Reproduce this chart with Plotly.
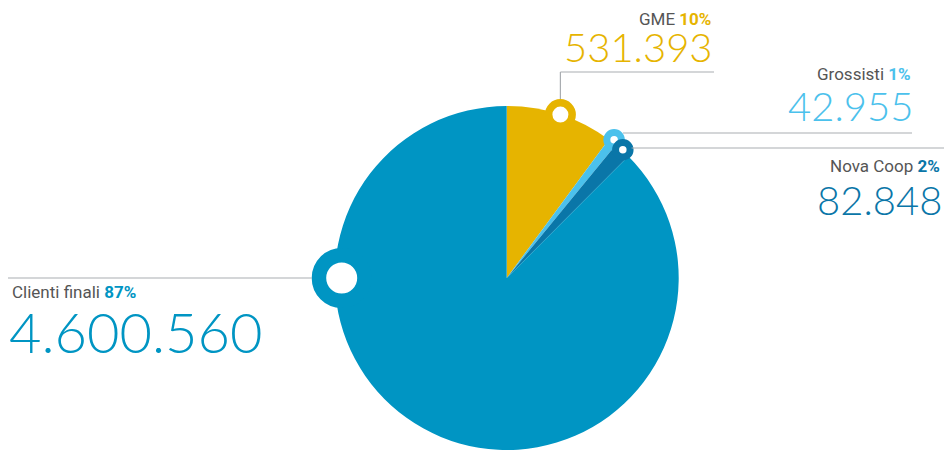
import math
import plotly.graph_objects as go

# ---- data ----
categories = ["GME", "Grossisti", "Nova Coop", "Clienti finali"]
values = [531393, 42955, 82848, 4600560]
pct_labels = ["10%", "1%", "2%", "87%"]
colors = ["#E6B400", "#4BC1EC", "#0A76A8", "#0095C3"]

W, H = 944, 450
CX, CY, R = 506.7, 278.0, 172.0

fig = go.Figure()

fig.add_trace(go.Pie(
    labels=categories, values=values, sort=False, direction="clockwise",
    rotation=0, textinfo="none", hoverinfo="label+value+percent",
    marker=dict(colors=colors, line=dict(width=0)),
    domain=dict(x=[(CX - R) / W, (CX + R) / W], y=[(H - CY - R) / H, (H - CY + R) / H]),
    showlegend=False,
))

# mid-angles of slices (clockwise from 12 o'clock)
total = sum(values)
cum = 0
mids = []
for v in values:
    mids.append((cum + v / 2) / total * 360)
    cum += v

def polar(angle_deg, r):
    a = math.radians(angle_deg)
    return CX + r * math.sin(a), CY - r * math.cos(a)

# callout rings: (angle, radius, diameter, ring width)
ring_specs = [
    (mids[0], 172, 23.5, 7.5),
    (mids[1], 175, 14.5, 7),
    (mids[2], 173, 14.5, 7),
    (270, 165, 45.5, 14.5),
]
shapes = []
ring_pos = []
for (ang, r, d, w), c in zip(ring_specs, colors):
    x, y = polar(ang, r)
    ring_pos.append((x, y, (d + w) / 2))
    shapes.append(dict(type="circle", xref="x", yref="y", layer="above",
                       x0=x - d / 2, x1=x + d / 2, y0=y - d / 2, y1=y + d / 2,
                       fillcolor="white", line=dict(color=c, width=w)))

LC = "#A9ADB1"
# GME leader
gx, gy, gr = ring_pos[0]
shapes.append(dict(type="line", xref="x", yref="y", x0=gx, x1=gx, y0=gy - gr, y1=72, line=dict(color=LC, width=1.2)))
shapes.append(dict(type="line", xref="x", yref="y", x0=gx, x1=714, y0=72, y1=72, line=dict(color=LC, width=1.2)))
# Grossisti leader
x1, y1, r1 = ring_pos[1]
shapes.append(dict(type="line", xref="x", yref="y", x0=x1 + r1 - 2, x1=912, y0=133, y1=133, line=dict(color=LC, width=1.2)))
# Nova Coop leader
x2, y2, r2 = ring_pos[2]
shapes.append(dict(type="line", xref="x", yref="y", x0=x2 + r2 - 2, x1=944, y0=148, y1=148, line=dict(color=LC, width=1.2)))
# Clienti leader
x3, y3, r3 = ring_pos[3]
shapes.append(dict(type="line", xref="x", yref="y", x0=8, x1=x3 - r3, y0=y3, y1=y3, line=dict(color=LC, width=1.2)))

def fmt(v):
    return f"{v:,}".replace(",", ".")

LABEL_FONT = "Roboto"
NUM_FONT = "Lato"
# label placement: (x, y_label, y_number, anchor, number size)
place = [
    (713, 19, 47, "right", 40),
    (913, 74, 106, "right", 40),
    (942, 166, 200, "right", 40),
    (10, 292, 331, "left", 56),
]
annotations = []
for cat, v, p, c, (x, yl, yn, anc, ns) in zip(categories, values, pct_labels, colors, place):
    annotations.append(dict(
        xref="x", yref="y", x=x, y=yl, xanchor=anc, yanchor="middle", showarrow=False,
        text=f"<span style='color:#555'>{cat}</span> <b>{p}</b>",
        font=dict(family=LABEL_FONT, size=17, color=c)))
    annotations.append(dict(
        xref="x", yref="y", x=x + (2 if anc == "right" else -3), y=yn, xanchor=anc, yanchor="middle", showarrow=False,
        text=fmt(v), font=dict(family=NUM_FONT, size=ns, color=c, weight=300)))

fig.update_layout(
    width=W, height=H, margin=dict(l=0, r=0, t=0, b=0),
    paper_bgcolor="white", plot_bgcolor="rgba(0,0,0,0)",
    xaxis=dict(range=[0, W], visible=False, domain=[0, 1], fixedrange=True),
    yaxis=dict(range=[H, 0], visible=False, domain=[0, 1], fixedrange=True),
    shapes=shapes, annotations=annotations, showlegend=False,
)
fig.write_html("out.html", config={"displayModeBar": False},
               post_script="document.body.style.margin='0';document.body.style.overflow='hidden';")
